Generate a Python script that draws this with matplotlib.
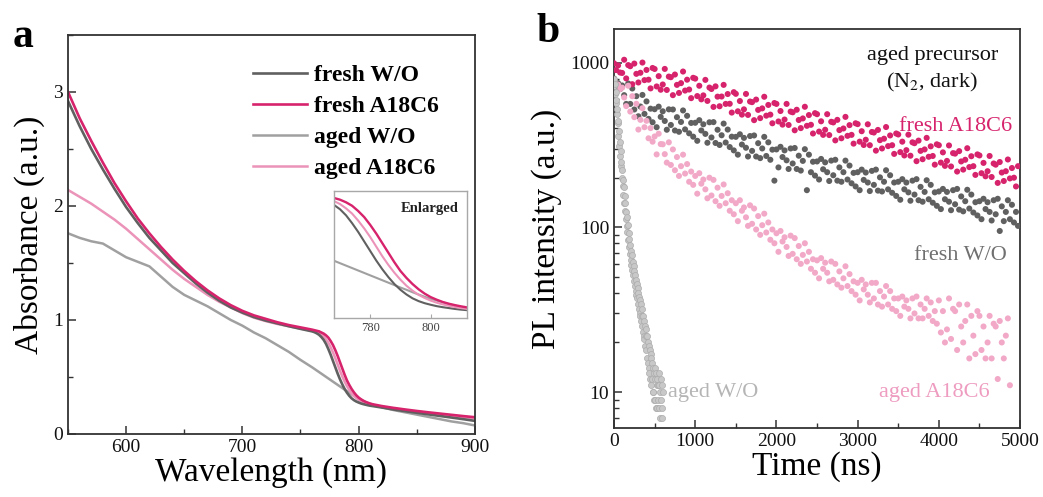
import numpy as np
import matplotlib
matplotlib.use("Agg")
import matplotlib.pyplot as plt
from matplotlib.ticker import MultipleLocator, FixedLocator, FixedFormatter, NullFormatter, LogLocator

plt.rcParams['font.family'] = ['Liberation Serif', 'DejaVu Serif']
plt.rcParams['mathtext.fontset'] = 'stix'

# ---------------- Panel a data: absorbance ----------------
wavelength = ([550, 560, 570, 580, 590, 600, 610, 620, 630, 640, 650, 660, 670, 680, 690, 700,
               710, 720, 730, 740, 750]
              + list(range(760, 814, 2))
              + [820, 830, 840, 850, 860, 870, 880, 890, 900])

abs_fresh_wo = [2.92, 2.70, 2.50, 2.32, 2.15, 1.99, 1.85, 1.72, 1.61, 1.50, 1.41, 1.32, 1.24, 1.17,
                1.11, 1.065, 1.025, 0.995, 0.97, 0.945, 0.922,
                0.90, 0.893, 0.883, 0.87, 0.85, 0.825, 0.79, 0.745, 0.695, 0.64,
                0.585, 0.53, 0.48, 0.435, 0.395, 0.362, 0.335, 0.313, 0.297, 0.285,
                0.276, 0.268, 0.262, 0.257, 0.252, 0.248, 0.245,
                0.232, 0.215, 0.20, 0.186, 0.172, 0.158, 0.144, 0.13, 0.115]
abs_fresh_a18 = [3.00, 2.77, 2.57, 2.38, 2.20, 2.04, 1.89, 1.76, 1.64, 1.53, 1.43, 1.34, 1.26, 1.19,
                 1.13, 1.08, 1.04, 1.01, 0.98, 0.955, 0.935,
                 0.915, 0.91, 0.905, 0.90, 0.89, 0.88, 0.865, 0.845, 0.815, 0.78,
                 0.735, 0.685, 0.63, 0.575, 0.52, 0.47, 0.43, 0.395, 0.365, 0.34,
                 0.32, 0.305, 0.292, 0.282, 0.274, 0.267, 0.261,
                 0.245, 0.229, 0.215, 0.202, 0.19, 0.179, 0.168, 0.157, 0.147]
abs_aged_wo = [1.76, 1.72, 1.69, 1.67, 1.61, 1.55, 1.51, 1.47, 1.38, 1.29, 1.22, 1.17, 1.12, 1.06,
               1.00, 0.95, 0.89, 0.84, 0.78, 0.72, 0.65,
               0.585, 0.571, 0.557, 0.543, 0.529, 0.515, 0.501, 0.487, 0.473, 0.459,
               0.445, 0.431, 0.417, 0.403, 0.389, 0.375, 0.362, 0.348, 0.335, 0.322,
               0.31, 0.30, 0.29, 0.28, 0.271, 0.263, 0.255,
               0.235, 0.21, 0.19, 0.17, 0.15, 0.13, 0.11, 0.095, 0.075]
abs_aged_a18 = [2.14, 2.08, 2.02, 1.95, 1.88, 1.80, 1.71, 1.62, 1.53, 1.44, 1.36, 1.29, 1.22, 1.16,
                1.11, 1.06, 1.02, 0.99, 0.965, 0.945, 0.925,
                0.905, 0.90, 0.893, 0.885, 0.872, 0.855, 0.83, 0.80, 0.76, 0.715,
                0.665, 0.61, 0.555, 0.505, 0.46, 0.42, 0.385, 0.357, 0.333, 0.315,
                0.30, 0.288, 0.278, 0.27, 0.263, 0.257, 0.252,
                0.238, 0.223, 0.209, 0.196, 0.183, 0.171, 0.159, 0.148, 0.137]

labels_a = ['fresh W/O', 'fresh A18C6', 'aged W/O', 'aged A18C6']

# ---------------- Panel b data: PL decay ----------------
time_fresh = np.arange(0, 5000, 25)      # ns, 200 channels
time_aged_a18 = np.arange(0, 4900, 25)   # ns, 196 channels
time_aged_wo = np.arange(0, 605, 5)      # ns, 121 channels

pl_fresh_a18 = [
    990, 900, 960, 870, 865, 1040, 801, 965, 950, 739, 986, 854, 757, 867, 1000, 782, 902, 787, 697, 927,
    914, 716, 827, 684, 736, 915, 682, 822, 815, 634, 846, 732, 654, 750, 882, 676, 787, 686, 608, 808,
    799, 626, 723, 598, 632, 785, 585, 705, 691, 538, 717, 621, 543, 622, 732, 561, 644, 562, 497, 661,
    646, 506, 584, 483, 520, 645, 481, 580, 575, 447, 596, 516, 460, 527, 620, 476, 553, 483, 428, 568,
    561, 439, 508, 420, 451, 561, 418, 504, 499, 388, 517, 448, 400, 458, 539, 413, 480, 419, 371, 493,
    486, 381, 440, 364, 391, 486, 363, 437, 433, 337, 449, 389, 347, 398, 468, 359, 417, 364, 322, 428,
    423, 331, 383, 316, 340, 422, 315, 379, 376, 292, 390, 338, 301, 345, 406, 311, 361, 315, 279, 371,
    366, 286, 331, 273, 294, 365, 272, 328, 324, 252, 336, 291, 259, 297, 349, 268, 310, 271, 240, 319,
    315, 247, 285, 236, 253, 314, 234, 282, 280, 218, 290, 251, 224, 257, 302, 232, 270, 235, 208, 277,
    273, 213, 246, 204, 219, 271, 202, 244, 240, 186, 249, 215, 191, 219, 258, 198, 229, 200, 177, 235]
pl_fresh_wo = [
    800, 745, 750, 690, 726, 634, 561, 746, 561, 696, 519, 625, 472, 541, 636, 488, 581, 455, 525, 434,
    521, 405, 540, 468, 506, 442, 391, 520, 418, 519, 387, 466, 380, 436, 512, 393, 475, 372, 430, 355,
    431, 335, 447, 387, 422, 369, 326, 434, 351, 435, 325, 391, 316, 362, 426, 327, 392, 307, 355, 293,
    354, 276, 367, 318, 349, 304, 269, 358, 291, 361, 269, 324, 263, 301, 354, 271, 328, 257, 296, 192,
    297, 231, 308, 267, 293, 255, 226, 301, 244, 303, 226, 272, 221, 253, 298, 168, 276, 216, 250, 206,
    251, 195, 260, 225, 248, 216, 191, 254, 207, 257, 192, 231, 189, 216, 254, 195, 237, 185, 214, 177,
    216, 168, 224, 194, 215, 187, 166, 220, 181, 224, 167, 201, 165, 189, 222, 170, 207, 162, 187, 155,
    189, 147, 196, 170, 187, 163, 145, 192, 158, 196, 146, 176, 143, 164, 193, 148, 181, 141, 163, 135,
    165, 129, 171, 148, 164, 143, 127, 168, 138, 171, 128, 154, 125, 144, 169, 130, 158, 123, 142, 118,
    144, 112, 149, 129, 142, 124, 110, 146, 120, 149, 95, 134, 109, 124, 146, 112, 137, 107, 124, 102]
pl_aged_a18 = [
    790, 740, 735, 690, 704, 614, 544, 723, 504, 625, 466, 562, 392, 449, 528, 405, 443, 347, 400, 331,
    356, 277, 370, 320, 319, 278, 247, 328, 239, 297, 222, 267, 205, 235, 276, 212, 242, 189, 218, 181,
    205, 160, 213, 184, 195, 170, 150, 200, 156, 194, 144, 174, 135, 155, 182, 140, 161, 126, 146, 120,
    140, 109, 146, 126, 132, 115, 102, 136, 105, 130, 97, 117, 90, 103, 121, 93, 107, 84, 97, 80,
    92, 71, 95, 82, 87, 76, 67, 89, 69, 86, 64, 77, 60, 68, 80, 62, 71, 56, 64, 53,
    63, 49, 65, 56, 61, 53, 47, 62, 48, 60, 45, 54, 43, 49, 58, 44, 52, 41, 47, 39,
    46, 36, 48, 42, 45, 39, 35, 46, 37, 46, 34, 41, 33, 38, 44, 34, 41, 32, 37, 31,
    37, 29, 38, 33, 36, 32, 28, 37, 30, 38, 28, 34, 28, 32, 37, 29, 35, 27, 31, 26,
    36, 23, 31, 20, 24, 37, 21, 32, 31, 18, 34, 25, 20, 27, 34, 16, 29, 22, 17, 31,
    29, 18, 25, 16, 20, 29, 16, 26, 25, 12, 27, 20, 16, 22, 28, 11]
pl_aged_wo = [
    800, 720, 740, 640, 660, 570,
    590, 490, 520, 430, 440, 360, 385, 310, 330, 270, 290, 235, 250, 200, 222,
    178, 195, 158, 175, 140, 155, 126, 140, 112, 124, 102, 115, 93, 104, 84,
    92, 76, 85, 69, 78, 63, 72, 59, 68, 55, 62, 51, 58, 47, 54,
    44, 51, 41, 48, 39, 45, 37, 43, 34, 40, 32, 38, 30, 36, 29,
    34, 27, 32, 25, 29, 23, 29, 22, 27, 21, 25, 19, 24, 18, 22,
    16, 22, 15, 20, 14, 19, 13, 18, 12, 17, 11, 16, 12, 15, 10,
    14, 10, 13, 9, 14, 12, 9, 13, 8, 11, 12, 8, 11, 9, 13,
    8, 11, 7, 10, 12, 9, 7, 11, 8, 10]

c_fresh_wo = '#606060'
c_fresh_a18 = '#d6236c'
c_aged_wo = '#a0a0a0'
c_aged_a18 = '#eb93b8'
c_spine = '#333333'

fig = plt.figure(figsize=(10.43, 4.97), dpi=100)

def style_axes(ax, lw=1.3):
    for s in ax.spines.values():
        s.set_color(c_spine)
        s.set_linewidth(lw)
    ax.tick_params(which='both', direction='in', top=False, right=False, colors=c_spine,
                   labelcolor='#111111', labelsize=14)
    ax.tick_params(which='major', length=6, width=1.1)
    ax.tick_params(which='minor', length=3.5, width=1.0)

# ---------------- Panel a ----------------
axa = fig.add_axes([0.0652, 0.1268, 0.390, 0.803])
axa.plot(wavelength, abs_aged_wo, color=c_aged_wo, lw=1.8, label=labels_a[2])
axa.plot(wavelength, abs_aged_a18, color=c_aged_a18, lw=1.8, label=labels_a[3])
axa.plot(wavelength, abs_fresh_wo, color=c_fresh_wo, lw=1.9, label=labels_a[0])
axa.plot(wavelength, abs_fresh_a18, color=c_fresh_a18, lw=1.9, label=labels_a[1])
axa.set_xlim(550, 900)
axa.set_ylim(0, 3.5)
axa.xaxis.set_major_locator(FixedLocator([600, 700, 800, 900]))
axa.xaxis.set_minor_locator(MultipleLocator(50))
axa.yaxis.set_major_locator(FixedLocator([0, 1, 2, 3]))
axa.yaxis.set_minor_locator(MultipleLocator(0.5))
style_axes(axa)
axa.set_xlabel('Wavelength (nm)', fontsize=24, labelpad=1)
axa.set_ylabel('Absorbance (a.u.)', fontsize=24, labelpad=6)
h, l = axa.get_legend_handles_labels()
order = [2, 3, 0, 1]
leg = axa.legend([h[i] for i in order], [l[i] for i in order], loc='upper left',
                 bbox_to_anchor=(0.455, 0.925), frameon=False, borderpad=0, borderaxespad=0,
                 handlelength=2.3, handletextpad=0.3, labelspacing=0.4,
                 prop={'size': 17, 'weight': 'bold'})

# inset
axi = fig.add_axes([0.3202, 0.3602, 0.1275, 0.2555])
axi.plot(wavelength, abs_aged_wo, color=c_aged_wo, lw=1.5)
axi.plot(wavelength, abs_fresh_wo, color=c_fresh_wo, lw=1.5)
axi.plot(wavelength, abs_aged_a18, color=c_aged_a18, lw=1.5)
axi.plot(wavelength, abs_fresh_a18, color=c_fresh_a18, lw=1.7)
axi.set_xlim(768, 812)
axi.set_ylim(0.2, 0.93)
axi.set_xticks([780, 800])
axi.set_yticks([])
for s in axi.spines.values():
    s.set_color('#a8a8a8')
    s.set_linewidth(1.0)
axi.tick_params(axis='x', direction='in', length=3, width=0.8, colors='#a8a8a8',
                labelcolor='#444444', labelsize=9, pad=3)
axi.text(0.94, 0.86, 'Enlarged', transform=axi.transAxes, ha='right', va='center',
         fontsize=10.5, fontweight='bold', color='#222222')

# ---------------- Panel b ----------------
axb = fig.add_axes([0.5887, 0.1388, 0.3893, 0.803])
ms = 19
axb.scatter(time_fresh, pl_fresh_wo, s=ms, color=c_fresh_wo, edgecolors='none', zorder=3)
axb.scatter(time_fresh, pl_fresh_a18, s=ms, color=c_fresh_a18, edgecolors='none', zorder=3)
axb.scatter(time_aged_a18, pl_aged_a18, s=ms, color='#f2a9c8', edgecolors='none', zorder=3)
axb.scatter(time_aged_wo, pl_aged_wo, s=ms, color='#c8c8c8', edgecolors='#acacac', linewidths=0.5, zorder=3)
axb.set_yscale('log')
axb.set_xlim(0, 5000)
axb.set_ylim(6.05, 1600)
axb.xaxis.set_major_locator(MultipleLocator(1000))
axb.xaxis.set_minor_locator(MultipleLocator(500))
axb.yaxis.set_major_locator(FixedLocator([10, 100, 1000]))
axb.yaxis.set_major_formatter(FixedFormatter(['10', '100', '1000']))
axb.yaxis.set_minor_locator(LogLocator(base=10, subs=np.arange(2, 10)))
axb.yaxis.set_minor_formatter(NullFormatter())
style_axes(axb)
axb.set_xlabel('Time (ns)', fontsize=24, labelpad=1)
axb.set_ylabel('PL intensity (a.u.)', fontsize=24, labelpad=6)

axb.text(3920, 1110, 'aged precursor', ha='center', va='center', fontsize=16, color='#111111')
axb.text(3920, 755, '(N$_2$, dark)', ha='center', va='center', fontsize=16, color='#111111')
axb.text(4900, 411, 'fresh A18C6', ha='right', va='center', fontsize=16, color=c_fresh_a18)
axb.text(4840, 67, 'fresh W/O', ha='right', va='center', fontsize=16, color='#707070')
axb.text(3945, 9.9, 'aged A18C6', ha='center', va='center', fontsize=16, color='#ee9cc0')
axb.text(665, 9.9, 'aged W/O', ha='left', va='center', fontsize=16, color='#b5b5b5')

fig.text(0.012, 0.905, 'a', fontsize=30, fontweight='bold')
fig.text(0.514, 0.915, 'b', fontsize=30, fontweight='bold')

fig.savefig('out.png', dpi=100)
